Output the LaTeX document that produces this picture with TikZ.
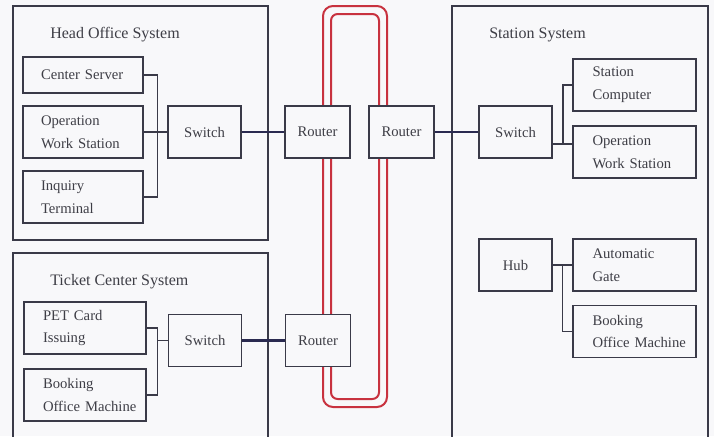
\documentclass[tikz,border=0pt]{standalone}
\usepackage{fontspec}
\setmainfont{Liberation Serif}
\usetikzlibrary{calc}
\definecolor{netink}{HTML}{3A3A48}
\definecolor{nettext}{HTML}{3E3E46}
\definecolor{nettrunk}{HTML}{2A2A50}
\definecolor{netring}{HTML}{C8323F}
\definecolor{netpaper}{HTML}{F8F8FA}

\begin{document}
\begin{tikzpicture}[
  x=0.75pt,
  y=-0.75pt,
  every node/.style={font=\fontsize{11}{17}\selectfont, nettext},
  frame/.style={netink, line width=0.9pt},
  title/.style={anchor=west, inner sep=0pt, font=\fontsize{12}{14}\selectfont},
  unit/.style={draw=netink, line width=0.9pt, fill=netpaper, inner xsep=0pt,
    inner ysep=0pt, minimum height=39pt},
  leftunit/.style={unit, text width=63pt, align=left},
  hubunit/.style={unit, minimum width=54.75pt, align=center},
  router/.style={unit, minimum width=48.75pt, align=center},
  wire/.style={netink, line width=0.8pt},
  trunk/.style={nettrunk, line width=1.9pt},
  ring/.style={netring, line width=1.5pt}
]
  \useasboundingbox (0,0) rectangle (714,436);
  \fill[netpaper] (0,0) rectangle (714,436);

  % ================= the three system frames ============================
  \draw[frame] (13,6) rectangle (268,240);
  \draw[frame] (13,438) |- (268,253) -- (268,438);
  \draw[frame] (452,438) |- (708,6) -- (708,438);

  \node[title] (headtitle) at (50,35) {Head Office System};
  \node[title] (tickettitle) at (50,282) {Ticket Center System};
  \node[title] (stationtitle) at (489,35) {Station System};

  % ================= the ring, under the routers ========================
  \draw[ring, rounded corners=7.5pt] (323,6) rectangle (387,407);
  \draw[ring, rounded corners=5pt] (331,14) rectangle (379,399);

  % ================= head office ========================================
  \node[leftunit, minimum width=90pt, minimum height=27pt] (server) at (83,75)
    {Center Server};
  \node[leftunit, minimum width=90pt] (hows) at (83,132)
    {Operation\\Work Station};
  \node[leftunit, minimum width=90pt] (inquiry) at (83,197)
    {Inquiry\\Terminal};
  \node[hubunit] (hswitch) at (204.5,132) {Switch};
  \node[router] (hrouter) at (317.5,132) {Router};

  \coordinate (hbus) at ($(hows.east)!0.6!(hswitch.west)$);
  \draw[wire] (server.east) -| (hbus |- inquiry) -- (inquiry.east);
  \draw[wire] (hows) -- (hswitch);
  \draw[trunk] (hswitch) -- (hrouter);

  % ================= ticket center ======================================
  \node[leftunit, minimum width=91.5pt] (pet) at (85,328) {PET Card\\Issuing};
  % the second line is wider than the text column; keep it on one line
  \node[leftunit, minimum width=91.5pt] (tbooking) at (85,395)
    {Booking\\\mbox{Office Machine}};
  \node[hubunit] (tswitch) at (205,340.5) {Switch};
  \node[router] (trouter) at (318,340.5) {Router};

  \coordinate (tbus) at ($(pet.east)!0.5!(tswitch.west)$);
  \draw[wire] (pet.east) -| (tbus |- tbooking) -- (tbooking.east);
  \draw[wire] (tbus |- tswitch) -- (tswitch.west);
  \draw[trunk] (tswitch) -- (trouter);

  % ================= station ============================================
  \node[router] (srouter) at (401.5,132) {Router};
  \node[hubunit] (sswitch) at (515.5,132) {Switch};
  \node[leftunit, minimum width=92.25pt] (computer) at (634.5,85)
    {Station\\Computer};
  \node[leftunit, minimum width=92.25pt] (sows) at (634.5,152)
    {Operation\\Work Station};
  \node[hubunit] (hub) at (515.5,265) {Hub};
  \node[leftunit, minimum width=92.25pt] (gate) at (634.5,265)
    {Automatic\\Gate};
  \node[leftunit, minimum width=92.25pt] (sbooking) at (634.5,331.5)
    {Booking\\\mbox{Office Machine}};

  \draw[trunk] (srouter) -- (sswitch);

  % The switch feeds the bus below its middle, level with 144.
  \coordinate (sjoin) at (563,144);
  \draw[wire] (sswitch.east |- sjoin) -- (sows.west |- sjoin);
  \draw[wire] (sjoin) |- (computer.west);

  \draw[wire] (hub) -- (gate);
  \draw[wire] ($(hub.east)!0.5!(gate.west)$) |- (sbooking.west);
\end{tikzpicture}
\end{document}
